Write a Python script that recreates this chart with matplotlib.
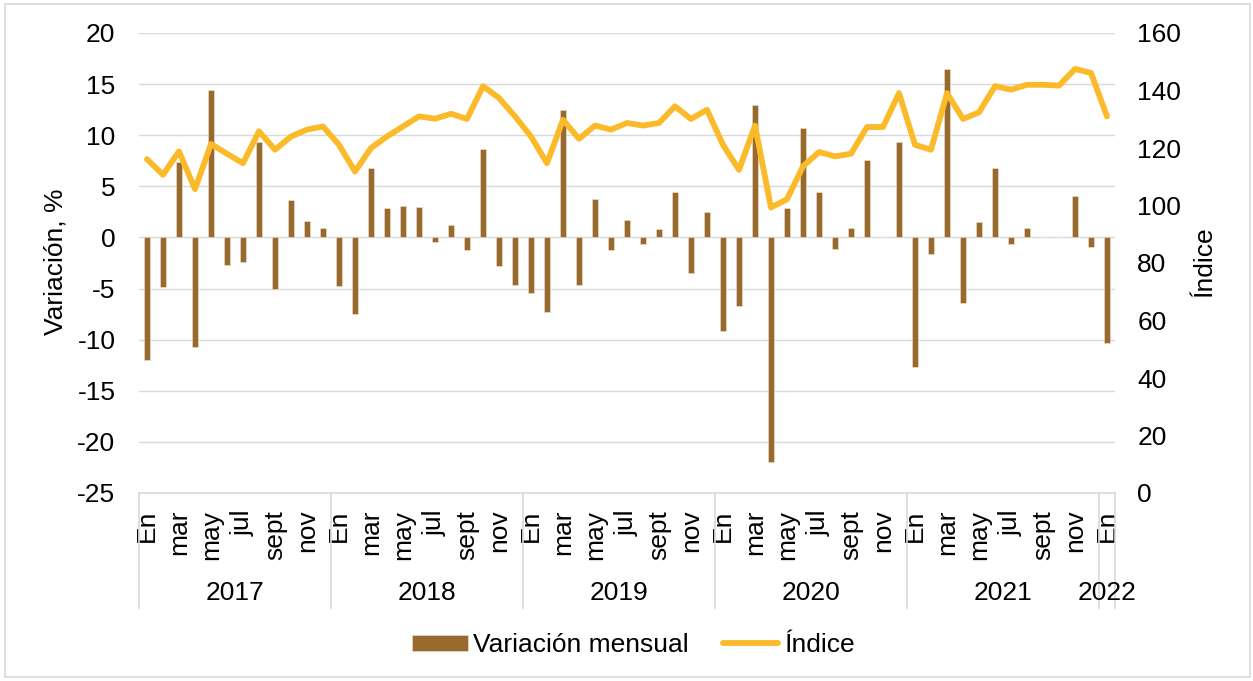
import matplotlib
matplotlib.use('Agg')
import matplotlib.pyplot as plt
import matplotlib.transforms as mtransforms
from matplotlib.patches import Rectangle
import numpy as np

plt.rcParams['font.family'] = ['Liberation Sans', 'DejaVu Sans']
plt.rcParams['font.size'] = 19
plt.rcParams['axes.unicode_minus'] = False

# Data: monthly values Jan 2017 .. Jan 2022
years = ['2017', '2018', '2019', '2020', '2021', '2022']
months_per_year = [12, 12, 12, 12, 12, 1]
month_labels = ['En', 'mar', 'may', 'jul', 'sept', 'nov']

variacion = [
    -12.0, -4.85, 7.4, -10.7, 14.4, -2.7, -2.4, 9.3, -5.0, 3.7, 1.6, 0.95,
    -4.75, -7.5, 6.75, 2.85, 3.05, 3.0, -0.45, 1.2, -1.25, 8.65, -2.8, -4.7,
    -5.4, -7.25, 12.45, -4.7, 3.75, -1.2, 1.7, -0.6, 0.85, 4.4, -3.45, 2.5,
    -9.2, -6.7, 13.0, -22.0, 2.85, 10.7, 4.4, -1.1, 0.9, 7.6, 0.0, 9.3,
    -12.65, -1.6, 16.45, -6.4, 1.5, 6.8, -0.6, 0.9, 0.0, 0.0, 4.1, -0.9,
    -10.3,
]

indice = [
    116.1, 110.7, 118.8, 105.7, 121.4, 118.0, 114.7, 125.8, 119.4, 124.0, 126.4, 127.5,
    121.1, 111.8, 120.0, 124.0, 127.5, 131.0, 130.2, 131.9, 130.1, 141.5, 137.4, 131.0,
    124.0, 114.7, 129.8, 123.2, 127.8, 126.4, 128.7, 127.8, 128.7, 134.5, 130.1, 133.3,
    121.1, 112.4, 127.8, 99.3, 102.2, 113.6, 118.6, 117.1, 118.0, 127.3, 127.3, 139.1,
    121.1, 119.4, 139.1, 130.1, 132.4, 141.5, 140.3, 142.0, 142.0, 141.7, 147.5, 146.1,
    131.0,
]

bar_color = '#996A2E'
line_color = '#FBBA2A'
grid_color = '#D9D9D9'

W, H = 1253, 681
fig = plt.figure(figsize=(W / 100, H / 100), dpi=100)
ax = fig.add_axes([139 / W, 1 - 493 / H, (1115 - 139) / W, (493 - 33) / H])
ax2 = ax.twinx()

x = np.arange(len(variacion))
ax.bar(x, variacion, width=0.38, color=bar_color, edgecolor='#EFE3D0',
       linewidth=0.4, zorder=3, label='Variación mensual')
ax2.plot(x, indice, color=line_color, linewidth=4.2, solid_joinstyle='round',
         solid_capstyle='round', zorder=4, label='Índice')

ax.set_xlim(-0.5, len(variacion) - 0.5)
ax.set_ylim(-25, 20)
ax.set_yticks(np.arange(-25, 21, 5))
ax2.set_ylim(0, 160)
ax2.set_yticks(np.arange(0, 161, 20))

ax.yaxis.grid(True, color=grid_color, linewidth=1, zorder=0)
ax.set_axisbelow(True)
for a in (ax, ax2):
    for s in ('top', 'left', 'right', 'bottom'):
        a.spines[s].set_visible(False)
ax.axhline(-25, color=grid_color, linewidth=1.2, clip_on=False, zorder=1)

ax.tick_params(axis='y', length=0, pad=17)
ax2.tick_params(axis='y', length=0, pad=16)

# month ticks: every second month, plus final January
tick_pos, tick_lab = [], []
start = 0
for n in months_per_year:
    for k in range(0, n, 2):
        tick_pos.append(start + k)
        tick_lab.append(month_labels[k // 2])
    start += n
ax.set_xticks(tick_pos)
ax.set_xticklabels(tick_lab, rotation=90)
ax.tick_params(axis='x', length=0, pad=12)

# year labels and separators
trans = mtransforms.blended_transform_factory(ax.transData, ax.transAxes)
start = 0
bounds = [-0.5]
for yr, n in zip(years, months_per_year):
    ax.text(start + (n - 1) / 2, -0.217, yr, transform=trans,
            ha='center', va='center')
    start += n
    bounds.append(start - 0.5)
for b in bounds:
    ax.plot([b, b], [0, -0.25], transform=trans, color=grid_color,
            linewidth=1.2, clip_on=False)

fig.text(55 / W, 1 - 262 / H, 'Variación, %', rotation=90,
         ha='center', va='center')
fig.text(1204 / W, 1 - 262 / H, 'Índice', rotation=90,
         ha='center', va='center')

h1, l1 = ax.get_legend_handles_labels()
h2, l2 = ax2.get_legend_handles_labels()
fig.legend(h1 + h2, l1 + l2, loc='center', bbox_to_anchor=(0.5055, 1 - 645 / H),
           ncol=2, frameon=False, handlelength=2.1, handleheight=0.55,
           handletextpad=0.2, columnspacing=1.3)

fig.patches.append(Rectangle((5 / W, 4 / H), (1250 - 5) / W, (677 - 4) / H,
                             transform=fig.transFigure, fill=False,
                             edgecolor=grid_color, linewidth=1.2))

plt.savefig('out.png', dpi=100)
plt.close()
